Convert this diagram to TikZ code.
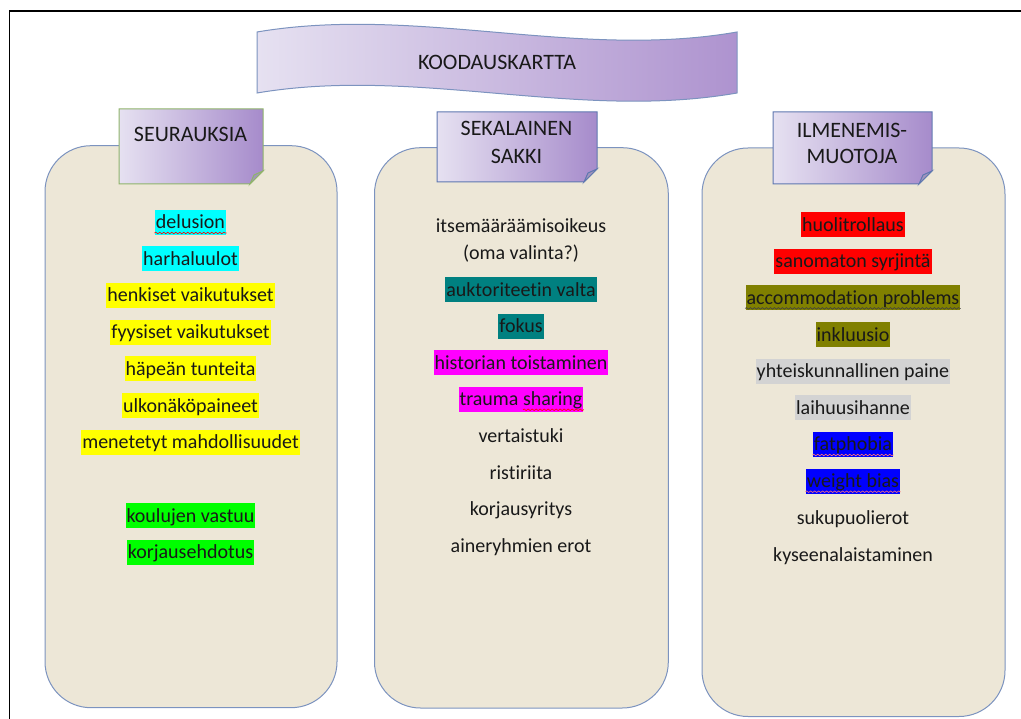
\documentclass[tikz,border=0pt]{standalone}
\usepackage{fontspec}
\setmainfont[Ligatures=NoCommon]{Carlito}
\usetikzlibrary{decorations.pathmorphing}

\definecolor{boxfill}{HTML}{EDE7D7}
\definecolor{boxline}{HTML}{7C93BF}
\definecolor{tabL}{HTML}{E6E1F1}
\definecolor{tabR}{HTML}{A68BCB}
\definecolor{tabfold}{HTML}{A294BD}
\definecolor{tabgreen}{HTML}{8FB46A}
\definecolor{tabblue}{HTML}{5F78B0}
\definecolor{waveL}{HTML}{E6E1F1}
\definecolor{waveR}{HTML}{AE93CF}
\definecolor{hlcyan}{HTML}{00FFFF}
\definecolor{hlyellow}{HTML}{FFFF00}
\definecolor{hlgreen}{HTML}{00FF00}
\definecolor{hlteal}{HTML}{008080}
\definecolor{hlmagenta}{HTML}{FF00FF}
\definecolor{hlred}{HTML}{FF0000}
\definecolor{hlolive}{HTML}{808000}
\definecolor{hlgray}{HTML}{D3D3D3}
\definecolor{hlblue}{HTML}{0000FF}

\newcommand{\bodyfont}{\fontsize{20}{24}\selectfont}
\newcommand{\headfont}{\fontsize{22}{26}\selectfont}

% folded note: x1, y1, x2, y2, border colour
\newcommand{\notetab}[5]{%
\draw[#5, left color=tabL, right color=tabR] (#1,#2) -- (#3,#2) -- (#3,{#4-13}) -- ({#3-13},#4) -- (#1,#4) -- cycle;
\draw[#5, fill=tabfold] (#3,{#4-13}) -- ({#3-9},{#4-9}) -- ({#3-13},#4) -- cycle;}

\tikzset{
codeitem/.style={font=\bodyfont, text=black!90, inner xsep=1pt, inner ysep=1pt, text height=18pt, text depth=5pt},
codemark/.style={codeitem, fill=#1},
tabtext/.style={font=\headfont, text=black!90, anchor=base, inner sep=0pt},
wavy/.style={draw=#1, line width=0.6pt, decorate, decoration={snake, amplitude=0.8pt, segment length=4pt}},
}

\begin{document}
\begin{tikzpicture}[x=1pt, y=-1pt, line width=1pt]
\useasboundingbox (0,0) rectangle (1021,719);
\draw[line width=1.5pt] (9.7,719) -- (9.7,10.8) -- (1021,10.8);
% banner
\draw[boxline, left color=waveL, right color=waveR] (257,32) .. controls (417,5) and (577,60) .. (737,32) -- (737,93) .. controls (577,121) and (417,66) .. (257,93) -- cycle;
\node[tabtext] (title) at (497,70) {KOODAUSKARTTA};
% columns
\draw[boxline, fill=boxfill, rounded corners=46] (45,145.7) rectangle (337,707.7);
\draw[boxline, fill=boxfill, rounded corners=46] (374.5,147.7) rectangle (668.3,708);
\draw[boxline, fill=boxfill, rounded corners=46] (702,148) rectangle (1005,716.5);
\notetab{119}{109}{263}{184}{tabgreen}
\notetab{437}{112}{597}{182}{tabblue}
\notetab{773}{112}{932}{184}{tabblue}
\node[tabtext] (seur) at (190.5,142) {SEURAUKSIA};
\node[tabtext] (seka1) at (516.5,135.7) {SEKALAINEN};
\node[tabtext] (seka2) at (516.5,163.3) {SAKKI};
\node[tabtext] (ilme1) at (852,137.7) {ILMENEMIS-};
\node[tabtext] (ilme2) at (852,163.3) {MUOTOJA};
% SEURAUKSIA
\node[codemark=hlcyan] (delusion) at (190.5,222.5) {delusion};
\node[codemark=hlcyan] (harha) at (190.5,259) {harhaluulot};
\node[codemark=hlyellow] (henkiset) at (190.5,295.5) {henkiset vaikutukset};
\node[codemark=hlyellow] (fyysiset) at (190.5,332.2) {fyysiset vaikutukset};
\node[codemark=hlyellow] (hapean) at (190.5,368.9) {häpeän tunteita};
\node[codemark=hlyellow] (ulkonako) at (190.5,405.6) {ulkonäköpaineet};
\node[codemark=hlyellow] (menetetyt) at (190.5,442.3) {menetetyt mahdollisuudet};
\node[codemark=hlgreen] (koulujen) at (190.5,515.5) {koulujen vastuu};
\node[codemark=hlgreen] (korjaus) at (190.5,552) {korjausehdotus};
% SEKALAINEN SAKKI
\node[codeitem] (itse1) at (521,226) {itsemääräämisoikeus};
\node[codeitem] (itse2) at (521,253) {(oma valinta?)};
\node[codemark=hlteal] (auktor) at (521,289.8) {auktoriteetin valta};
\node[codemark=hlteal] (fokus) at (521,326.3) {fokus};
\node[codemark=hlmagenta] (historian) at (521,362.8) {historian toistaminen};
\node[codemark=hlmagenta] (trauma) at (521,399.3) {trauma sharing};
\node[codeitem] (vertais) at (521,436) {vertaistuki};
\node[codeitem] (ristiriita) at (521,472.6) {ristiriita};
\node[codeitem] (korjausyr) at (521,509.3) {korjausyritys};
\node[codeitem] (aineryhm) at (521,546) {aineryhmien erot};
% ILMENEMISMUOTOJA
\node[codemark=hlred] (huoli) at (853,224.7) {huolitrollaus};
\node[codemark=hlred] (sanomaton) at (853,261.3) {sanomaton syrjintä};
\node[codemark=hlolive] (accomm) at (853,297.9) {accommodation problems};
\node[codemark=hlolive] (inkluusio) at (853,334.6) {inkluusio};
\node[codemark=hlgray] (yhteis) at (853,371.2) {yhteiskunnallinen paine};
\node[codemark=hlgray] (laihuus) at (853,407.9) {laihuusihanne};
\node[codemark=hlblue] (fatphobia) at (853,444.5) {fatphobia};
\node[codemark=hlblue] (weight) at (853,481.2) {weight bias};
\node[codeitem] (sukupuoli) at (853,517.8) {sukupuolierot};
\node[codeitem] (kyseen) at (853,554.5) {kyseenalaistaminen};
% spelling marks
\draw[wavy=red] ([yshift=2.5pt]delusion.south west) -- ([yshift=2.5pt]delusion.south east);
\draw[wavy=red] ([xshift=-61pt,yshift=2.5pt]trauma.south east) -- ([yshift=2.5pt]trauma.south east);
\draw[wavy=black!75] ([yshift=2.5pt]accomm.south west) -- ([yshift=2.5pt]accomm.south east);
\draw[wavy=red!55] ([yshift=2.5pt]fatphobia.south west) -- ([yshift=2.5pt]fatphobia.south east);
\draw[wavy=red!55] ([yshift=2.5pt]weight.south west) -- ([yshift=2.5pt]weight.south east);
\end{tikzpicture}
\end{document}
